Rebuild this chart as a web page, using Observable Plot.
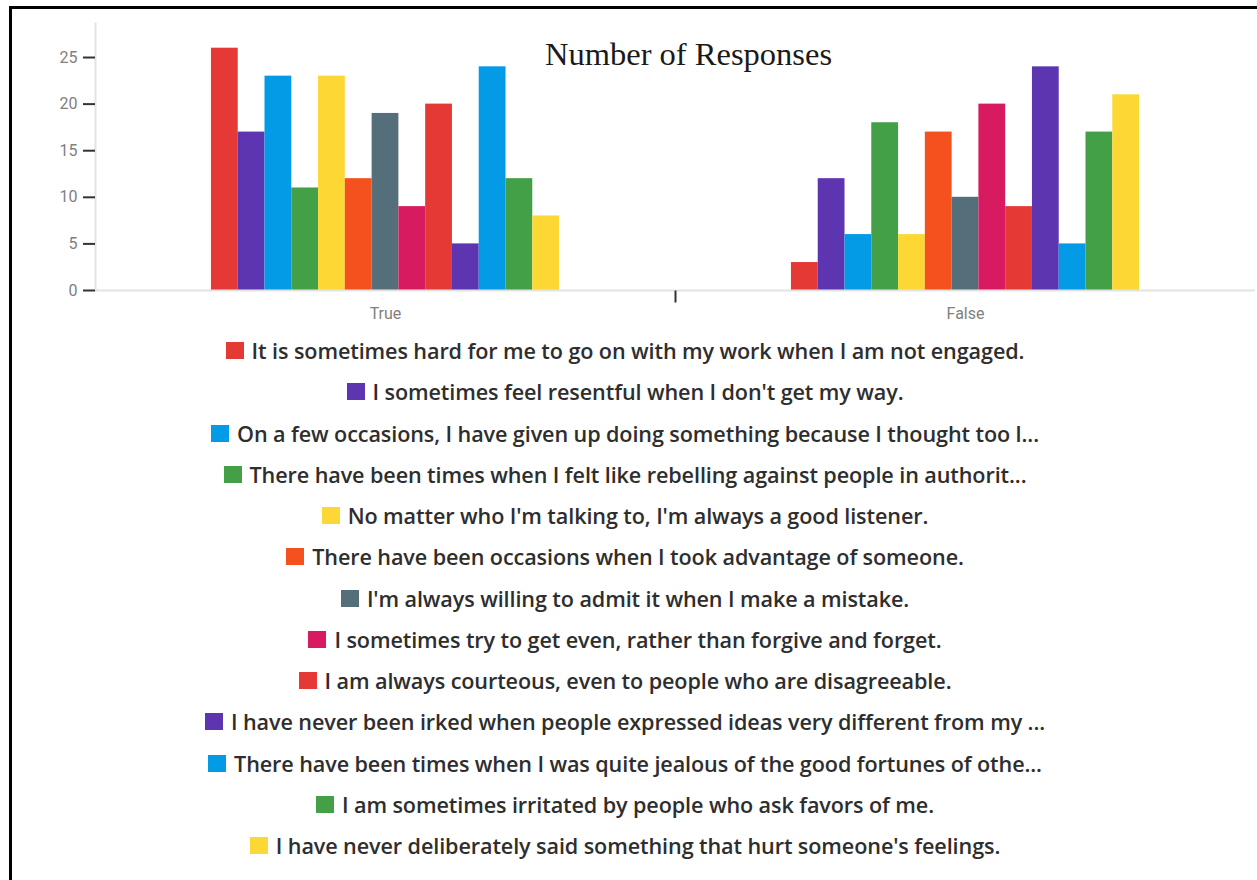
<!DOCTYPE html>
<html>
<head>
<meta charset="utf-8">
<script src="https://cdn.jsdelivr.net/npm/d3@7"></script>
<script src="https://cdn.jsdelivr.net/npm/@observablehq/plot@0.6"></script>
<style>
  html, body { margin: 0; padding: 0; background: #fff; }
  #wrap { position: relative; width: 1257px; height: 880px; overflow: hidden; background: #fff; }
  #border { position: absolute; left: 9px; top: 6px; width: 2000px; height: 2000px;
            border-left: 3px solid #000; border-top: 3px solid #000; pointer-events: none; }
  #title { position: absolute; left: 545px; top: 38px; line-height: 32px;
           font-family: "Liberation Serif", "Times New Roman", serif; font-size: 32.5px; color: #1a1a1a; white-space: nowrap; }
  #chart { position: absolute; left: 0; top: 0; }
  #legend { position: absolute; left: 0; top: 330px; width: 1250px; }
  #legend .lg-swatches-wrap { display: flex !important; flex-direction: column !important; align-items: center !important;
            flex-wrap: nowrap !important; min-height: 0 !important; margin: 0 !important; }
  #legend .lg-swatch { display: flex !important; align-items: center !important; height: 41.25px; margin: 0 !important;
            font-family: "Open Sans", "Noto Sans", sans-serif; font-weight: 600; font-size: 21.6px; letter-spacing: -0.1px;
            color: #2e2e2e; white-space: nowrap; }
  #legend .lg-swatch svg { width: 18px; height: 17px; margin-right: 8px !important; flex: none; }
</style>
</head>
<body>
<div id="wrap">
  <div id="chart"></div>
  <div id="title">Number of Responses</div>
  <div id="legend"></div>
  <div id="border"></div>
</div>
<script>
const answers = ["True", "False"];
const questions = [
  "It is sometimes hard for me to go on with my work when I am not engaged.",
  "I sometimes feel resentful when I don't get my way.",
  "On a few occasions, I have given up doing something because I thought too l...",
  "There have been times when I felt like rebelling against people in authorit...",
  "No matter who I'm talking to, I'm always a good listener.",
  "There have been occasions when I took advantage of someone.",
  "I'm always willing to admit it when I make a mistake.",
  "I sometimes try to get even, rather than forgive and forget.",
  "I am always courteous, even to people who are disagreeable.",
  "I have never been irked when people expressed ideas very different from my ...",
  "There have been times when I was quite jealous of the good fortunes of othe...",
  "I am sometimes irritated by people who ask favors of me.",
  "I have never deliberately said something that hurt someone's feelings."
];
const trueCounts  = [26, 17, 23, 11, 23, 12, 19, 9, 20, 5, 24, 12, 8];
const falseCounts = [3, 12, 6, 18, 6, 17, 10, 20, 9, 24, 5, 17, 21];
const palette = ["#e53935", "#5e35b1", "#039be5", "#43a047", "#fdd835", "#f4511e", "#546e7a", "#d81b60",
                 "#e53935", "#5e35b1", "#039be5", "#43a047", "#fdd835"];
const yTicks = [0, 5, 10, 15, 20, 25];

const data = [];
questions.forEach((q, i) => {
  data.push({answer: "True", question: q, count: trueCounts[i]});
  data.push({answer: "False", question: q, count: falseCounts[i]});
});

const boundaryTick = {
  draw(ctx) { ctx.moveTo(0, 0); ctx.lineTo(0, 12); }
};

const chart = Plot.plot({
  width: 1257,
  height: 330,
  marginLeft: 95,
  marginRight: 2,
  marginTop: 23,
  marginBottom: 40,
  style: {fontFamily: "Roboto, sans-serif", fontSize: "16px", background: "transparent"},
  fx: {domain: answers, padding: 0, label: null},
  x: {domain: questions, paddingInner: 0, paddingOuter: 4.33, round: false, axis: null},
  y: {domain: [0, 28.65], label: null},
  color: {domain: questions, range: palette},
  marks: [
    Plot.barY(data, {fx: "answer", x: "question", y: "count", fill: "question"}),
    Plot.ruleY([0], {stroke: "#e3e3e3", strokeWidth: 2}),
    Plot.frame({anchor: "left", stroke: "#e3e3e3", strokeWidth: 2, facetAnchor: "left"}),
    Plot.axisY({ticks: yTicks, tickSize: 12, tickPadding: 6, stroke: "#333", strokeWidth: 2,
                fill: "#808080", fontSize: 16, label: null}),
    Plot.axisFx({anchor: "bottom", tickSize: 0, tickPadding: 17, fill: "#808080", fontSize: 16, label: null}),
    Plot.dot([{answer: "False"}], {fx: "answer", frameAnchor: "bottom-left", symbol: boundaryTick,
                                   stroke: "#333", strokeWidth: 2, fill: "none"})
  ]
});
document.getElementById("chart").appendChild(chart);

const legend = Plot.legend({
  color: {domain: questions, range: palette, type: "ordinal"},
  legend: "swatches",
  swatchSize: 17,
  className: "lg"
});
document.getElementById("legend").appendChild(legend);
</script>
</body>
</html>
